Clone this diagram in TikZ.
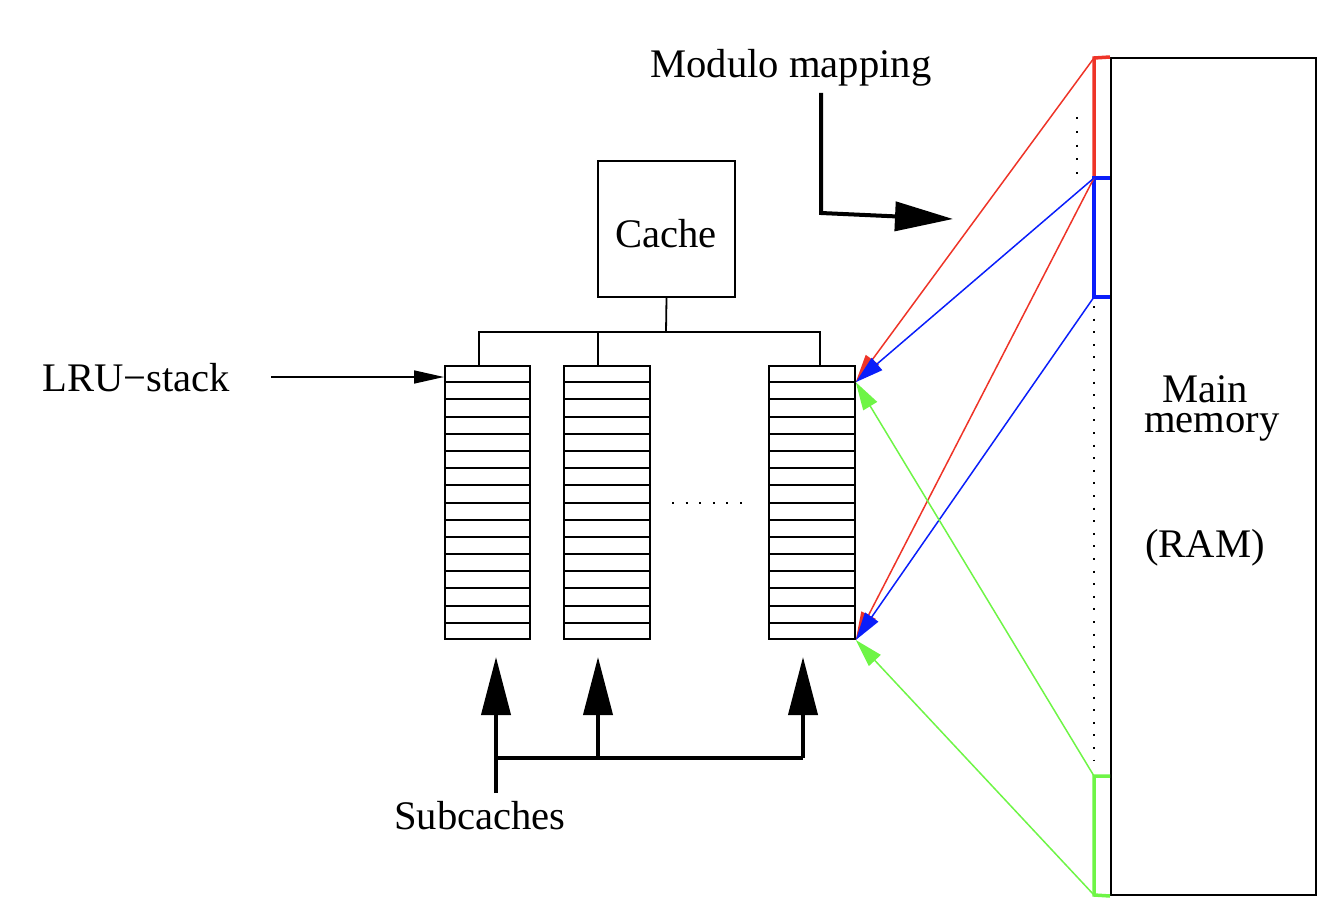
\documentclass[tikz,border=0pt]{standalone}
\usepackage{fontspec}
\setmainfont{Liberation Serif}
\usetikzlibrary{arrows.meta,calc}
\definecolor{mred}{RGB}{238,52,40}
\definecolor{mblue}{RGB}{10,30,250}
\definecolor{mgreen}{RGB}{110,245,70}
\begin{document}
\begin{tikzpicture}[x=0.5pt,y=-0.5pt,
  lbl/.style={font=\fontsize{20.3}{24}\selectfont, inner sep=0, anchor=base},
  ln/.style={line width=0.9pt},
  stackbox/.style={draw, line width=1pt, minimum width=42.75pt, minimum height=136.5pt, inner sep=0},
  smallarrow/.style={-{Triangle[length=15pt,width=6.5pt]}, line width=0.8pt},
  bigarrow/.style={-{Triangle[length=29pt,width=14.5pt]}, line width=2pt},
  carrow/.style={-{Triangle[length=14pt,width=8pt]}, line width=0.75pt},
  block/.style={line width=1.75pt},
  dots/.style={line width=1pt, dash pattern=on 1pt off 5.8pt},
]
\useasboundingbox (0,0) rectangle (1344,904);

% subcaches (LRU stacks)
\node[stackbox] (s1) at (487.5,502.5) {};
\node[stackbox] (s2) at (607,502.5) {};
\node[stackbox] (s3) at (812,502.5) {};
\foreach \s in {s1,s2,s3}{
  \foreach \k in {1,...,15}{
    \draw[line width=1pt] ($(\s.north west)!\k/16!(\s.south west)$) -- ($(\s.north east)!\k/16!(\s.south east)$);
  }
}
\draw[dots] (672,503) -- (745,503);

% cache and bus
\node[draw, line width=1pt, minimum width=68.5pt, minimum height=68pt, inner sep=0] (cache) at (666.5,229) {};
\node[lbl] (cachelbl) at (666,247) {Cache};
\coordinate (bus) at (666,332);
\draw[ln] (cache.south) -- (bus);
\draw[ln] (479,0 |- s1.north) -- (479,332) -- (820,332) -- (820,0 |- s3.north);
\draw[ln] (598,0 |- s2.north) -- (598,332);

% LRU-stack label
\node[lbl] (lru) at (136,391) {LRU−stack};
\coordinate (lrufrom) at (271,377);
\coordinate (lruto) at (444,377);
\draw[smallarrow] (lrufrom) -- (lruto);

% Subcaches label and arrows
\node[lbl] (sub) at (480,829) {Subcaches};
\coordinate (subfoot) at (496,793);
\coordinate (j1) at (496,758);
\coordinate (j2) at (598,758);
\coordinate (j3) at (803,758);
\draw[line width=2pt] (subfoot) -- (j1) -- (j3);
\draw[bigarrow] (j1) -- (496,657);
\draw[bigarrow] (j2) -- (598,657);
\draw[bigarrow] (j3) -- (803,657);

% Modulo mapping
\node[lbl] (mod) at (791,78) {Modulo mapping};
\coordinate (modtop) at (821,93);
\coordinate (modcorner) at (821,213);
\coordinate (modtip) at (953,219);
\draw[bigarrow] (modtop) -- (modcorner) -- (modtip);

% Main memory
\node[draw, line width=1pt, minimum width=102.5pt, minimum height=418.5pt, inner sep=0] (mem) at (1213.5,476.5) {};
\node[font=\fontsize{20.3}{15}\selectfont, inner sep=0, align=center, anchor=north] (main) at (1212,375) {Main\hspace*{7pt}\\memory};
\node[lbl] (ram) at (1205,557) {(RAM)};

% dotted markers
\draw[dots, dash pattern=on 1pt off 5.9pt] (1077,117) -- (1077,176);
\draw[dots, dash pattern=on 1pt off 5.3pt] (1094,306) -- (1094,760);

% memory blocks
\coordinate (rA) at (1094,58);
\coordinate (bA) at (1094,178);
\coordinate (bB) at (1094,297);
\coordinate (gA) at (1094,776);
\coordinate (gB) at (1094,895);
\draw[block, mred] (mem.north west) -- (rA) -- (bA);
\draw[block, mblue] (mem.west |- bA) -- (bA) -- (bB) -- (mem.west |- bB);
\draw[block, mgreen] (mem.west |- gA) -- (gA) -- (gB) -- (mem.south west);

% mapping arrows
\coordinate (t3) at ($(s3.north east)!1/16!(s3.south east)$);
\coordinate (b3) at (s3.south east);
\draw[carrow, mred] (rA) -- (t3);
\draw[carrow, mred] (bA) -- (b3);
\draw[carrow, mblue] (bA) -- (t3);
\draw[carrow, mblue] (bB) -- (b3);
\draw[carrow, mgreen] (gA) -- (t3);
\draw[carrow, mgreen] (gB) -- (b3);
\end{tikzpicture}
\end{document}
